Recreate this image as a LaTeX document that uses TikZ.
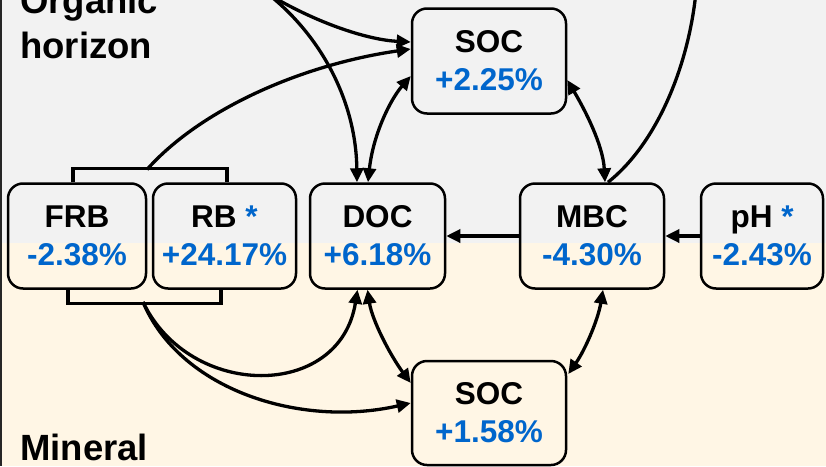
\documentclass[tikz,border=0pt]{standalone}
\usepackage{fontspec}
\setmainfont{Liberation Sans}
\usetikzlibrary{arrows.meta,calc}
\definecolor{bggray}{RGB}{242,242,242}
\definecolor{bgcream}{RGB}{255,246,229}
\definecolor{valblue}{RGB}{0,102,204}
\begin{document}
\begin{tikzpicture}[x=1pt,y=-1pt,
  box/.style={draw=black, line width=2.5pt, rounded corners=15pt, align=center, inner sep=0pt, minimum height=105pt, font=\bfseries\fontsize{31.5}{38}\selectfont},
  arr/.style={line width=3.3pt, -{Triangle[length=14pt,width=13pt]}},
  darr/.style={line width=3.3pt, {Triangle[length=14pt,width=13pt]}-{Triangle[length=14pt,width=13pt]}},
  plainline/.style={line width=3.3pt},
  lbl/.style={font=\bfseries\fontsize{36.5}{44}\selectfont, inner sep=0pt, anchor=base west}]
\useasboundingbox (0,0) rectangle (826,466);
\clip (0,0) rectangle (826,466);
\fill[bggray] (0,0) rectangle (826,243);
\fill[bgcream] (0,243) rectangle (826,466);
\draw[line width=1.5pt, black!85] (0.75,0) -- (0.75,466);

% labels
\node[lbl] (org) at (20,13.5) {Organic};
\node[lbl] (hor) at (20,58) {horizon};
\node[lbl] (min) at (20,460) {Mineral};

% boxes
\node[box, minimum width=154pt] (SOCt) at (489,61) {SOC\\\textcolor{valblue}{+2.25\%}};
\node[box, minimum width=138pt] (FRB) at (77,236) {FRB\\\textcolor{valblue}{-2.38\%}};
\node[box, minimum width=143pt] (RB) at (224.5,236) {RB \textcolor{valblue}{*}\\\textcolor{valblue}{+24.17\%}};
\node[box, minimum width=135pt] (DOC) at (377.5,236) {DOC\\\textcolor{valblue}{+6.18\%}};
\node[box, minimum width=144pt] (MBC) at (592,236) {MBC\\\textcolor{valblue}{-4.30\%}};
\node[box, minimum width=122pt] (pH) at (762,236) {pH \textcolor{valblue}{*}\\\textcolor{valblue}{-2.43\%}};
\node[box, minimum width=154pt, minimum height=104pt] (SOCb) at (489,413) {SOC\\\textcolor{valblue}{+1.58\%}};

% free ends and bracket centres
\coordinate (tbM) at (147,169.5);
\coordinate (bbM) at (143,302);
\coordinate (srcTL) at (268,-6);
\coordinate (srcTR) at (696,-8);

% brackets
\draw[plainline] ($(FRB.north)+(-4,0)$) -- ++(0,-14) -| ($(RB.north)+(2.5,0)$);
\draw[plainline] ($(FRB.south)+(-9,0)$) -- ++(0,14) -| ($(RB.south)+(-3.5,0)$);

% connectors
\draw[arr] (srcTL) .. controls (320,25) and (370,40) .. ($(SOCt.west)+(0,-19)$);
\draw[arr] (srcTL) .. controls (320,35) and (356,100) .. ($(DOC.north)+(-20.5,0)$);
\draw[arr] (tbM) .. controls (200,110) and (300,65) .. ($(SOCt.west)+(0,-12)$);
\draw[darr] ($(DOC.north)+(-9.5,0)$) .. controls (373,135) and (390,100) .. ($(SOCt.west)+(0,15)$);
\draw[darr] ($(SOCt.east)+(0,19)$) .. controls (585,110) and (603,145) .. ($(MBC.north)+(13,0)$);
\draw[plainline] ($(MBC.north)+(16,0)$) .. controls (655,145) and (688,70) .. (srcTR);
\draw[arr] (MBC.west) -- (DOC.east);
\draw[arr] (pH.west) -- (MBC.east);
\draw[arr] (bbM) .. controls (190,400) and (340,400) .. ($(DOC.south)+(-20,0)$);
\draw[arr] (bbM) .. controls (180,390) and (300,428) .. ($(SOCb.west)+(0,-10)$);
\draw[darr] ($(DOC.south)+(-10,0)$) .. controls (372,320) and (390,355) .. ($(SOCb.west)+(0,-30)$);
\draw[darr] ($(MBC.south)+(11,0)$) .. controls (598,320) and (585,350) .. ($(SOCb.east)+(1,-39)$);
\end{tikzpicture}
\end{document}
